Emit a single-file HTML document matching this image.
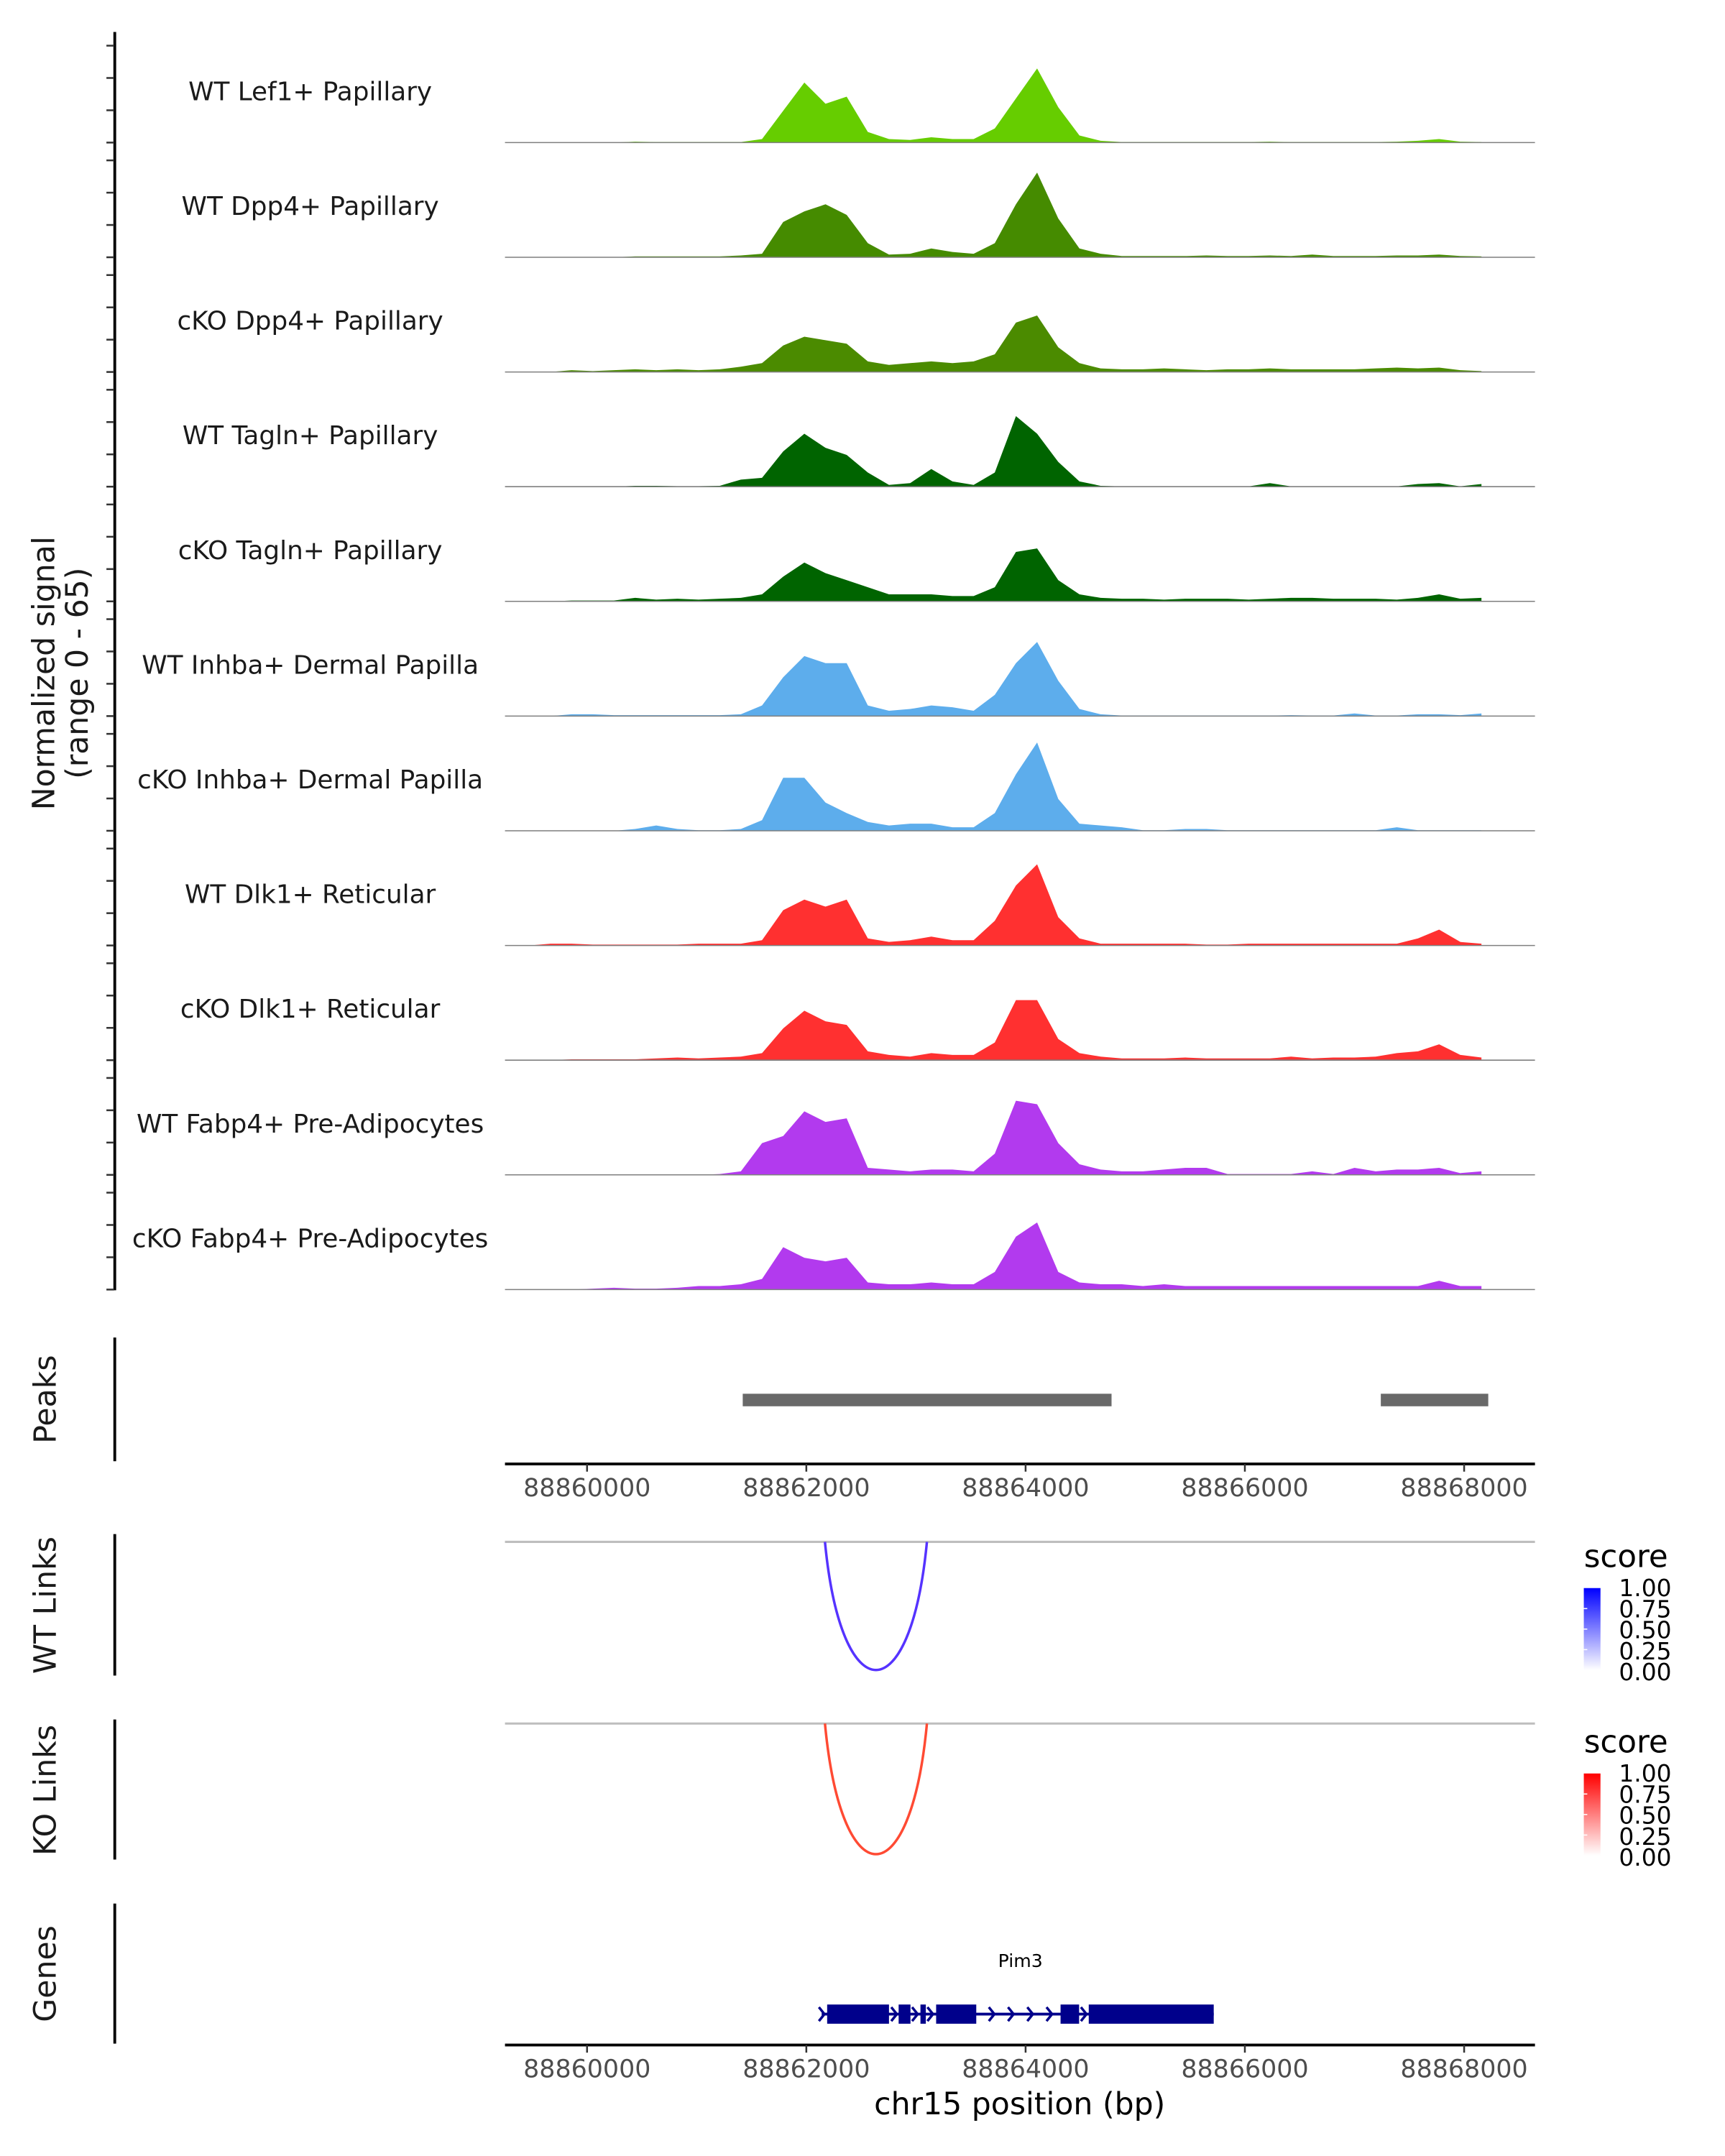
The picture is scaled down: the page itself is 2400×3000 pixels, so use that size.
<!DOCTYPE html>
<html><head><meta charset="utf-8"><style>
html,body{margin:0;padding:0;background:#fff}
svg{display:block}
text{font-family:"DejaVu Sans","Liberation Sans",sans-serif}
</style></head><body>
<svg id="chart" xmlns="http://www.w3.org/2000/svg" width="2400" height="3000" viewBox="0 0 1240 1550">
<rect width="1240" height="1550" fill="#fff"/>
<g id="tracks"></g>
<g id="peaks"></g>
<g id="links"></g>
<g id="genes"></g>
<g id="axes"></g>
<text transform="translate(39,484) rotate(-90)" text-anchor="middle" font-size="22" fill="#1a1a1a">Normalized signal</text>
<text transform="translate(63,484) rotate(-90)" text-anchor="middle" font-size="22" fill="#1a1a1a">(range 0 - 65)</text>
<text transform="translate(40,1006) rotate(-90)" text-anchor="middle" font-size="22" fill="#1a1a1a">Peaks</text>
<text transform="translate(40,1154) rotate(-90)" text-anchor="middle" font-size="22" fill="#1a1a1a">WT Links</text>
<text transform="translate(40,1287) rotate(-90)" text-anchor="middle" font-size="22" fill="#1a1a1a">KO Links</text>
<text transform="translate(40,1419) rotate(-90)" text-anchor="middle" font-size="22" fill="#1a1a1a">Genes</text>
<text x="733" y="1520" text-anchor="middle" font-size="22" fill="#000">chr15 position (bp)</text>
<defs>
<linearGradient id="gBlue" x1="0" y1="1" x2="0" y2="0"><stop offset="0" stop-color="#ffffff"/><stop offset="1" stop-color="#0000ff"/></linearGradient>
<linearGradient id="gRed" x1="0" y1="1" x2="0" y2="0"><stop offset="0" stop-color="#ffffff"/><stop offset="1" stop-color="#ff0000"/></linearGradient>
</defs>
<g id="legends"></g>
</svg>
<script>
const NS = "http://www.w3.org/2000/svg";
const trackNames = ["WT Lef1+ Papillary","WT Dpp4+ Papillary","cKO Dpp4+ Papillary","WT Tagln+ Papillary","cKO Tagln+ Papillary","WT Inhba+ Dermal Papilla","cKO Inhba+ Dermal Papilla","WT Dlk1+ Reticular","cKO Dlk1+ Reticular","WT Fabp4+ Pre-Adipocytes","cKO Fabp4+ Pre-Adipocytes"];
const trackColors = ["#66cd00","#458b00","#4b8b00","#006400","#006400","#5dadec","#5dadec","#ff3030","#ff3030","#b23aee","#b23aee"];
const binStart = 88859280;
const binStep = 193;
const sigLef1 = [0,0,0,0,0,0,0.5,0.3,0.3,0.3, 0.3,0.3,2,18,34,22,26,6,2,1.5, 3,2,2,8,25,42,20,4,1,0.3, 0.3,0.3,0.3,0.3,0.3,0.3,0.5,0.3,0.3,0.3, 0.3,0.3,0.5,1,2,0.5,0.3];
const sigWtDpp4 = [0,0,0,0,0,0,0.5,0.5,0.5,0.5, 0.5,1,2,20,26,30,24,8,1.5,2, 5,3,2,8,30,48,22,5,2,0.7, 0.7,0.7,0.7,1,0.7,0.7,1,0.7,1.5,0.7, 0.7,0.7,1,1,1.5,0.7,0.5];
const sigKoDpp4 = [0,0,0,1,0.5,1,1.5,1,1.5,1, 1.5,3,5,15,20,18,16,6,4,5, 6,5,6,10,28,32,14,5,2,1.5, 1.5,2,1.5,1,1.5,1.5,2,1.5,1.5,1.5, 1.5,2,2.5,2,2.5,1,0.5];
const sigWtTagln = [0,0,0,0,0,0,0.5,0.5,0.3,0.3, 0.5,4,5,20,30,22,18,8,1,2, 10,3,1,8,40,30,14,3,0.5,0.2, 0.2,0.2,0.2,0.2,0.2,0.2,2,0.2,0.2,0.2, 0.2,0.2,0.2,1.5,2,0.2,1.5];
const sigKoTagln = [0,0,0,0.5,0.5,0.5,2,1,1.5,1, 1.5,2,4,14,22,16,12,8,4,4, 4,3,3,8,28,30,12,4,2,1.5, 1.5,1,1.5,1.5,1.5,1,1.5,2,2,1.5, 1.5,1.5,1,2,4,1.5,2];
const sigWtInhba = [0,0,0,1,1,0.5,0.5,0.5,0.5,0.5, 0.5,1,6,22,34,30,30,6,3,4, 6,5,3,12,30,42,20,4,1,0.3, 0.3,0.3,0.3,0.3,0.3,0.3,0.3,0.5,0.3,0.3, 1.5,0.3,0.3,1,1,0.5,1.5];
const sigKoInhba = [0,0,0,0,0,0,1,3,1,0.3, 0.3,1,6,30,30,16,10,5,3,4, 4,2,2,10,32,50,18,4,3,2, 0.3,0.3,1,1,0.3,0.3,0.3,0.3,0.3,0.3, 0.3,0.3,2,0.3,0.3,0.3,0.3];
const sigWtDlk1 = [0,0,1,1,0.5,0.5,0.5,0.5,0.5,1, 1,1,3,20,26,22,26,4,2,3, 5,3,3,14,34,46,16,4,1,1, 1,1,1,0.5,0.5,1,1,1,1,1, 1,1,1,4,9,2,1];
const sigKoDlk1 = [0,0,0,0.5,0.5,0.5,0.5,1,1.5,1, 1.5,2,4,18,28,22,20,5,3,2, 4,3,3,10,34,34,12,4,2,1, 1,1,1.5,1,1,1,1,2,1,1.5, 1.5,2,4,5,9,3,1.5];
const sigWtFabp4 = [0,0,0,0,0,0,0,0,0,0, 0.5,2,18,22,36,30,32,4,3,2, 3,3,2,12,42,40,18,6,3,2, 2,3,4,4,0.5,0.5,0.5,0.5,2,0.5, 4,2,3,3,4,1,2];
const sigKoFabp4 = [0,0,0,0,0.5,1,0.5,0.5,1,2, 2,3,6,24,18,16,18,4,3,3, 4,3,3,10,30,38,10,4,3,3, 2,3,2,2,2,2,2,2,2,2, 2,2,2,2,5,2,2];
const allSignals = [sigLef1,sigWtDpp4,sigKoDpp4,sigWtTagln,sigKoTagln,sigWtInhba,sigKoInhba,sigWtDlk1,sigKoDlk1,sigWtFabp4,sigKoFabp4];
const yTickVals = [0,18.3,36.6,54.9];
const xTickVals = [88860000,88862000,88864000,88866000,88868000];
const peakStarts = [88861420,88867240];
const peakEnds = [88864784,88868220];
const linkStarts = [88862170];
const linkEnds = [88863100];
const linkScores = [0.9];
const geneName = "Pim3";
const geneStart = 88862140;
const geneEnd = 88865716;
const exonStarts = [88862190,88862842,88863041,88863184,88864319,88864576];
const exonEnds = [88862754,88862950,88863090,88863550,88864488,88865716];
const chevronPos = [88862140,88862800,88862990,88863130,88863690,88863865,88864041,88864216,88864530];
const legendTicks = ["1.00","0.75","0.50","0.25","0.00"];

const X0 = 422, XPER = 0.07881;
function xs(bp){ return X0 + (bp - 88860000) * XPER; }
const BASE0 = 102.5, TSTEP = 82.46, YPER = 1.269;
function ys(v, t){ return BASE0 + t*TSTEP - v*YPER; }
function mk(tag, attrs, parent){ const e=document.createElementNS(NS,tag); for(const k in attrs) e.setAttribute(k, attrs[k]); parent.appendChild(e); return e; }

const gT = document.getElementById('tracks');
const gA = document.getElementById('axes');
const mainAx = mk('line',{x1:82.5,x2:82.5,y1:23,y2:ys(0,allSignals.length-1)+0.5,stroke:'#000','stroke-width':2}, gA);


allSignals.forEach((sig, t) => {
  const base = ys(0, t);
  let d = `M${xs(binStart).toFixed(2)},${base}`;
  sig.forEach((v,i)=>{ d += ` L${xs(binStart+binStep*i).toFixed(2)},${ys(v,t).toFixed(2)}`; });
  d += ` L${xs(binStart+binStep*(sig.length-1)).toFixed(2)},${base} Z`;
  const p = mk('path',{d:d, fill:trackColors[t]}, gT);
  
  
  const bl = mk('line',{x1:363,x2:1103.4,y1:base,y2:base,stroke:'#7f7f7f','stroke-width':0.8}, gT);
  
  
  const lb = mk('text',{x:223,y:base-30.5,'text-anchor':'middle','font-size':18.5,fill:'#1a1a1a'}, gT);
  lb.textContent = trackNames[t];
  
  
  yTickVals.forEach(v=>{
    const tk = mk('line',{x1:76.5,x2:82,y1:ys(v,t),y2:ys(v,t),stroke:'#333','stroke-width':1.3}, gA);
    
    
  });
});

const gP = document.getElementById('peaks');
peakStarts.forEach((s,i)=>{
  const r = mk('rect',{x:xs(s),y:1002,width:xs(peakEnds[i])-xs(s),height:9,fill:'#696969'}, gP);
  
  
});
function xAxis(y, name){
  const l = mk('line',{x1:363,x2:1103.4,y1:y,y2:y,stroke:'#000','stroke-width':2}, gA);
  
  
  xTickVals.forEach(v=>{
    const tk = mk('line',{x1:xs(v),x2:xs(v),y1:y,y2:y+5.5,stroke:'#333','stroke-width':1.3}, gA);
    
    
    const tl = mk('text',{x:xs(v),y:y+23.3,'text-anchor':'middle','font-size':18,fill:'#4d4d4d'}, gA);
    tl.textContent = String(v);
    
    
  });
}
xAxis(1052.5, 'peaks-x-axis');
xAxis(1470.2, 'genes-x-axis');
[[961.6,1050.5,'peaks-y-axis'],[1102.9,1204.6,'wt-links-y-axis'],[1236.2,1336.9,'ko-links-y-axis'],[1368.5,1469.2,'genes-y-axis']].forEach(a=>{
  const l = mk('line',{x1:82.5,x2:82.5,y1:a[0],y2:a[1],stroke:'#000','stroke-width':2}, gA);
  
  
});

const gL = document.getElementById('links');
[[1108.5,1200.6,'#5533ff','wt'],[1239.1,1333,'#ff4a33','ko']].forEach(c=>{
  const gl = mk('line',{x1:363,x2:1103.4,y1:c[0],y2:c[0],stroke:'#bebebe','stroke-width':1.6}, gL);
  
  
  linkStarts.forEach((s,i)=>{
    const x1 = xs(s), x2 = xs(linkEnds[i]);
    const ctrl = c[0] + (c[1]-c[0])*4/3;
    const p = mk('path',{d:`M${x1},${c[0]} C${x1+(x2-x1)*0.16},${ctrl} ${x2-(x2-x1)*0.16},${ctrl} ${x2},${c[0]}`,fill:'none',stroke:c[2],'stroke-width':1.8}, gL);
    
    
  });
});

const gG = document.getElementById('genes');
const gy = 1448;
const gl = mk('line',{x1:xs(geneStart),x2:xs(geneEnd),y1:gy,y2:gy,stroke:'#00008b','stroke-width':2}, gG);


exonStarts.forEach((s,i)=>{
  const r = mk('rect',{x:xs(s),y:gy-6.9,width:xs(exonEnds[i])-xs(s),height:13.8,fill:'#00008b'}, gG);
  
  
});
chevronPos.forEach(p=>{
  const x = xs(p);
  const c = mk('path',{d:`M${x-2},${gy-5} L${x+2},${gy} L${x-2},${gy+5}`,fill:'none',stroke:'#00008b','stroke-width':1.8}, gG);
  
  
});
const gn = mk('text',{x:733.5,y:1414,'text-anchor':'middle','font-size':13,fill:'#000'}, gG);
gn.textContent = geneName;



const gLe = document.getElementById('legends');
[[0,'url(#gBlue)','wt'],[133.3,'url(#gRed)','ko']].forEach(L=>{
  const o = L[0];
  const st = mk('text',{x:1138.6,y:1126.6+o,'font-size':22.5,fill:'#000'}, gLe);
  st.textContent = 'score';
  
  
  const r = mk('rect',{x:1138.5,y:1141.7+o,width:12,height:59,fill:L[1]}, gLe);
  
  
  legendTicks.forEach((t,i)=>{
    const tx = mk('text',{x:1163.7,y:1147.6+o+i*15.1,'font-size':17,fill:'#000'}, gLe);
    tx.textContent = t;
    
    
    if(i>0 && i<4){
      const tk = mk('line',{x1:1138.5,x2:1141,y1:1141.7+o+i*14.75,y2:1141.7+o+i*14.75,stroke:'#fff','stroke-width':0.8}, gLe);
      
      
    }
  });
});
</script>
</body></html>
